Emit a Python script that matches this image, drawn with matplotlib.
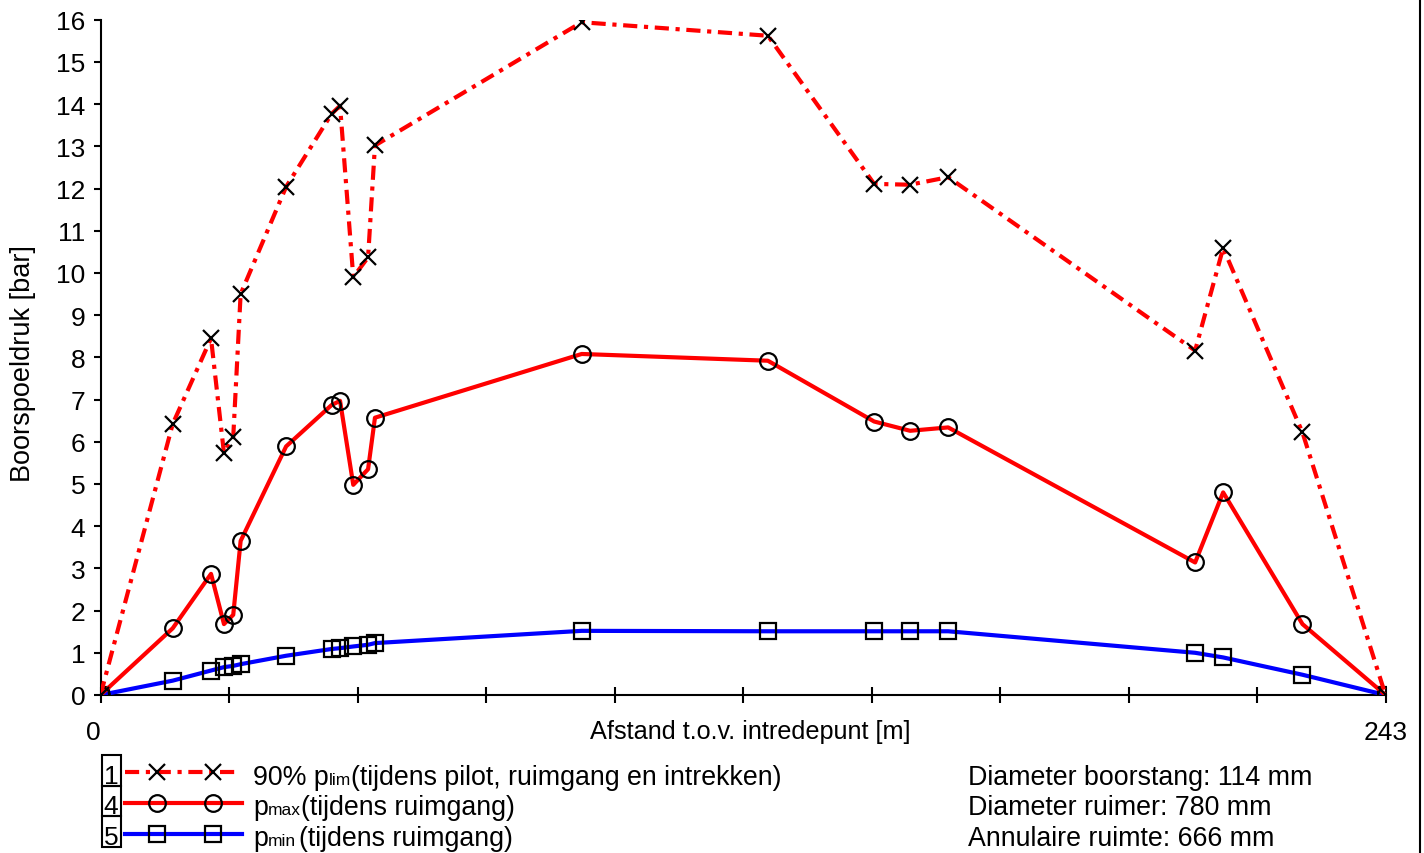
import numpy as np
import matplotlib
matplotlib.use("Agg")
import matplotlib.pyplot as plt
from matplotlib.lines import Line2D
from matplotlib.patches import Rectangle

plt.rcParams['font.family'] = ['Liberation Sans', 'DejaVu Sans']

# Measurement positions along the drill path [m]
afstand = [0, 13.65, 20.9, 23.35, 25.1, 26.5, 35.1, 43.7, 45.3, 47.8, 50.6, 51.9,
           91.0, 126.2, 146.3, 153.1, 160.3, 207.0, 212.3, 227.3, 243]

# 90% limit pressure (pilot, reaming and pull-back) [bar]
p_lim_90 = [0, 6.42, 8.45, 5.73, 6.11, 9.50, 12.04, 13.77, 13.96, 9.90, 10.37, 13.02,
            15.94, 15.62, 12.11, 12.09, 12.27, 8.16, 10.59, 6.22, 0]

# maximum mud pressure during reaming [bar]
p_max = [0, 1.58, 2.87, 1.68, 1.90, 3.65, 5.89, 6.87, 6.97, 4.98, 5.35, 6.57,
         8.08, 7.92, 6.48, 6.26, 6.34, 3.14, 4.80, 1.68, 0]

# minimum mud pressure during reaming [bar]
p_min = [0, 0.34, 0.58, 0.66, 0.69, 0.73, 0.93, 1.09, 1.11, 1.15, 1.19, 1.23,
         1.52, 1.51, 1.51, 1.51, 1.51, 1.00, 0.89, 0.48, 0]

legend_ids = ["1", "4", "5"]
# (text, font size, extra gap in px after the piece)
legend_parts = [
    [("90% p", 19.3, 0), ("lim", 12.5, 0), ("(tijdens pilot, ruimgang en intrekken)", 19.3, 0)],
    [("p", 19.3, 0), ("max", 12.5, 0), ("(tijdens ruimgang)", 19.3, 0)],
    [("p", 19.3, 0), ("min", 12.5, 3), ("(tijdens ruimgang)", 19.3, 0)],
]
info_lines = ["Diameter boorstang: 114 mm",
              "Diameter ruimer: 780 mm",
              "Annulaire ruimte: 666 mm"]

W, H = 1424, 854
fig = plt.figure(figsize=(W / 100, H / 100), dpi=100)
ax = fig.add_axes([100.5 / W, 1 - 696 / H, 1285 / W, 675.3 / H])


def fx(px):
    return px / W


def fy(py):
    return 1 - py / H


lw = 3.0
dashdot = (0, (3.4, 1.6, 1.0, 1.6))
style_lim = dict(color='red', lw=lw, linestyle=dashdot, marker='x', ms=11.5,
                 mec='black', mew=1.6)
style_max = dict(color='red', lw=lw, linestyle='-', marker='o', ms=12,
                 mfc='none', mec='black', mew=1.6)
style_min = dict(color='blue', lw=lw, linestyle='-', marker='s', ms=11,
                 mfc='none', mec='black', mew=1.6)

ax.plot(afstand, p_min, **style_min, zorder=3)
ax.plot(afstand, p_max, **style_max, zorder=4)
ax.plot(afstand, p_lim_90, **style_lim, zorder=5)

ax.set_xlim(0, 243)
ax.set_ylim(0, 16)
ax.margins(0)

for s in ('top', 'right'):
    ax.spines[s].set_visible(False)
for s in ('left', 'bottom'):
    ax.spines[s].set_linewidth(1.5)

xt = np.linspace(0, 243, 11)
ax.set_xticks(xt)
ax.set_xticklabels(["0"] + [""] * 9 + ["243"])
ax.get_xticklabels()[0].set_ha('right')
ax.set_yticks(range(0, 17))
ax.tick_params(axis='x', direction='inout', length=11.5, width=1.5, pad=12,
               labelsize=19)
ax.tick_params(axis='y', direction='out', length=5, width=1.5, pad=6,
               labelsize=19)

ax.set_xlabel("Afstand t.o.v. intredepunt [m]", fontsize=18.2)
ax.xaxis.set_label_coords(0.506, -0.036)
ax.set_ylabel("Boorspoeldruk [bar]", fontsize=19.5, va='center')
ax.yaxis.set_label_coords(-0.0603, 0.492)

# legend block drawn in figure pixels
row_mid = [773, 804, 835]
row_base = [785, 815.5, 846]
styles = [style_lim, style_max, style_min]
ends = [237, 242, 242]
box_top = [756, 786.5, 817]
for i in range(3):
    fig.add_artist(Rectangle((fx(101.5), fy(box_top[i] + 30.5)), 19 / W, 30.5 / H,
                             transform=fig.transFigure, fill=False,
                             edgecolor='black', lw=1.5))
    fig.text(fx(111), fy(row_base[i] - 1), legend_ids[i], fontsize=19,
             ha='center', va='baseline')
    st = dict(styles[i])
    mk = dict(marker=st.pop('marker'), ms=st.pop('ms'), mec=st.pop('mec'),
              mew=st.pop('mew'), mfc=st.pop('mfc', 'none'))
    fig.add_artist(Line2D([fx(125), fx(ends[i])], [fy(row_mid[i])] * 2,
                          transform=fig.transFigure, **st))
    fig.add_artist(Line2D([fx(157), fx(213)], [fy(row_mid[i])] * 2,
                          transform=fig.transFigure, linestyle='none', **mk))

renderer = fig.canvas.get_renderer()
for i, parts in enumerate(legend_parts):
    x = 253
    for s, size, gap in parts:
        t = fig.text(fx(x), fy(row_base[i]), s, fontsize=size,
                     ha='left', va='baseline')
        x += t.get_window_extent(renderer).width + gap

for i, s in enumerate(info_lines):
    fig.text(fx(968), fy(row_base[i]), s, fontsize=19.3, ha='left', va='baseline')

fig.add_artist(Line2D([fx(1420), fx(1420)], [0, 1], transform=fig.transFigure,
                      color='black', lw=1.5))

fig.savefig("out.png", dpi=100)
